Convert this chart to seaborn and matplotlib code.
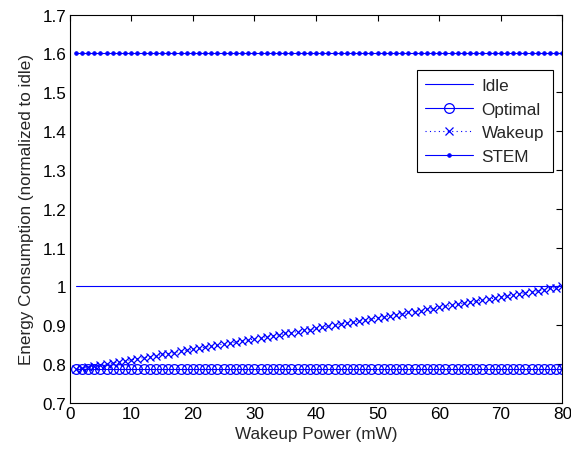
import numpy as np
import pandas as pd
import matplotlib
matplotlib.use("Agg")
import matplotlib.pyplot as plt
import seaborn as sns

# wakeup power (mW), one sample per mW
power = list(range(1, 81))

idle = [1.0] * 80
optimal = [0.787] * 80
stem = [1.6] * 80
wakeup = [0.787, 0.790, 0.792, 0.795, 0.798, 0.800, 0.803, 0.806, 0.809, 0.811,
          0.814, 0.817, 0.819, 0.822, 0.825, 0.827, 0.830, 0.833, 0.836, 0.838,
          0.841, 0.844, 0.846, 0.849, 0.852, 0.854, 0.857, 0.860, 0.862, 0.865,
          0.868, 0.871, 0.873, 0.876, 0.879, 0.881, 0.884, 0.887, 0.889, 0.892,
          0.895, 0.898, 0.900, 0.903, 0.906, 0.908, 0.911, 0.914, 0.916, 0.919,
          0.922, 0.924, 0.927, 0.930, 0.933, 0.935, 0.938, 0.941, 0.943, 0.946,
          0.949, 0.951, 0.954, 0.957, 0.960, 0.962, 0.965, 0.968, 0.970, 0.973,
          0.976, 0.978, 0.981, 0.984, 0.987, 0.989, 0.992, 0.995, 0.997, 1.000]

yticks = [0.7, 0.8, 0.9, 1.0, 1.1, 1.2, 1.3, 1.4, 1.5, 1.6, 1.7]
ytick_labels = ['0.7', '0.8', '0.9', '1', '1.1', '1.2', '1.3', '1.4', '1.5', '1.6', '1.7']
xticks = [0, 10, 20, 30, 40, 50, 60, 70, 80]

df = pd.DataFrame({'power': power, 'Idle': idle, 'Optimal': optimal,
                   'Wakeup': wakeup, 'STEM': stem})

sns.set_style('white')
plt.rcParams['font.family'] = ['Liberation Sans', 'DejaVu Sans']
fs = 12.3

fig, ax = plt.subplots(figsize=(5.71, 4.56), dpi=100)
fig.subplots_adjust(left=0.122, right=0.985, top=0.966, bottom=0.114)

blue = (0, 0, 1)
sns.lineplot(data=df, x='power', y='Idle', ax=ax, color=blue, lw=0.8, label='Idle')
sns.lineplot(data=df, x='power', y='Optimal', ax=ax, color=blue, lw=0.8,
             marker='o', markersize=7, markerfacecolor='none',
             markeredgecolor=blue, markeredgewidth=0.9, label='Optimal')
sns.lineplot(data=df, x='power', y='Wakeup', ax=ax, color=blue, lw=0.8,
             linestyle=(0, (1, 3)), marker='x', markersize=6, markeredgewidth=0.9,
             markeredgecolor=blue, label='Wakeup')
sns.lineplot(data=df, x='power', y='STEM', ax=ax, color=blue, lw=0.8,
             marker='.', markersize=5, markeredgecolor=blue, label='STEM')

ax.set_xlim(0, 80)
ax.set_ylim(0.7, 1.7)
ax.set_xticks(xticks)
ax.set_yticks(yticks)
ax.set_yticklabels(ytick_labels)
ax.tick_params(direction='in', top=True, right=True, length=4, width=0.8,
               labelsize=fs, colors='black', pad=2.5)
for s in ax.spines.values():
    s.set_color('black')
    s.set_linewidth(0.8)

ax.set_xlabel('Wakeup Power (mW)', fontsize=fs, labelpad=3)
ax.set_ylabel('Energy Consumption (normalized to idle)', fontsize=fs, labelpad=6)

leg = ax.legend(loc='upper right', bbox_to_anchor=(0.98, 0.858), fontsize=fs,
                fancybox=False, edgecolor='black', framealpha=1,
                handlelength=2.8, borderpad=0.5, labelspacing=0.5,
                handletextpad=0.5, borderaxespad=0)
leg.get_frame().set_linewidth(0.8)

fig.savefig('out.png', dpi=100)
